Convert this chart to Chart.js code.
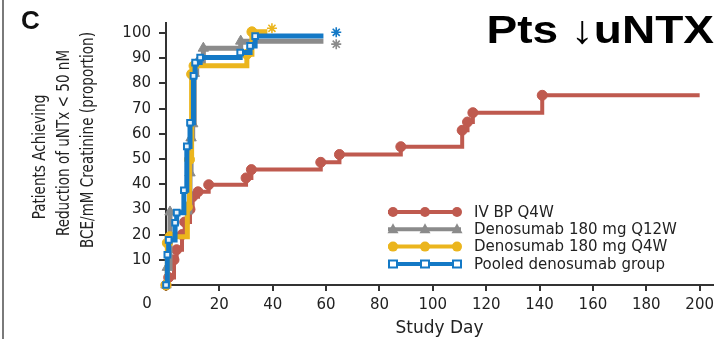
<!DOCTYPE html>
<html>
<head>
<meta charset="utf-8">
<script src="https://cdn.jsdelivr.net/npm/chart.js"></script>
<style>
  html, body { margin: 0; padding: 0; background: #fff; }
  #wrap { position: relative; width: 716px; height: 339px; }
</style>
</head>
<body>
<div id="wrap"><canvas id="untxChart"></canvas></div>
<script>
// tick labels
const dayTicks = [0, 20, 40, 60, 80, 100, 120, 140, 160, 180, 200];
const pctTicks = [10, 20, 30, 40, 50, 60, 70, 80, 90, 100];

// IV BP Q4W
const ivbpDays = [0, 1, 3, 4, 6, 7, 9, 10, 12, 16, 30, 32, 58, 65, 88, 111, 113, 115, 141, 200];
const ivbpPct  = [0, 3, 10, 14, 20, 25, 30, 35, 37, 39.8, 42.5, 45.8, 48.7, 51.8, 54.9, 61.4, 64.7, 68.4, 75.3, 75.3];

// Denosumab 180 mg Q12W
const q12Days = [0, 0.5, 1.5, 9, 9.4, 10, 10.6, 11.5, 14, 28, 59];
const q12Pct  = [0, 7, 29, 44.5, 58.4, 64, 84, 88, 94, 96.8, 96.8];

// Denosumab 180 mg Q4W
const q4Days = [0, 0.5, 1.5, 8, 8.8, 9.6, 10.5, 30.3, 32.2, 38];
const q4Pct  = [0, 16.7, 19.2, 31, 49.8, 83.7, 87, 91.6, 100.5, 100.5];

// Pooled denosumab group
const poolDays = [0, 0.5, 1, 3.4, 4, 6.7, 7.8, 9, 10.3, 10.9, 12.8, 27.8, 31.5, 33.4, 59];
const poolPct  = [0, 12, 17.9, 24.7, 28.7, 37.6, 55, 64.4, 83, 88.3, 90.3, 92.3, 94.9, 98.8, 98.8];

// end-of-follow-up asterisks: pooled, Q12W, Q4W
const censorDays = [63.8, 63.8, 39.7];
const censorPct  = [100.3, 95.6, 101.9];

const seriesNames = ['IV BP Q4W', 'Denosumab 180 mg Q12W', 'Denosumab 180 mg Q4W', 'Pooled denosumab group'];
const yTitle = ['Patients Achieving', 'Reduction of uNTx < 50 nM', 'BCE/mM Creatinine (proportion)'];
const colRed = '#bf5a4f', colGray = '#8b8b8b', colGold = '#ebb51d', colBlue = '#1479c6';

function pts(xs, ys) { return xs.map((x, i) => ({ x: x, y: ys[i] })); }
function noLastMarker(r) {
  return function(ctx) { return ctx.dataIndex === ctx.dataset.data.length - 1 ? 0 : r; };
}

function stepSet(label, xs, ys, color, style, r, width, order, fillPt) {
  return {
    label: label,
    data: pts(xs, ys),
    stepped: 'before',
    borderColor: color,
    borderWidth: width,
    pointStyle: style,
    pointRadius: noLastMarker(r),
    pointBackgroundColor: fillPt || color,
    pointBorderColor: color,
    pointBorderWidth: fillPt ? 2 : 1,
    order: order
  };
}

function starSet(i, color) {
  return {
    label: 'censor' + i,
    data: [{ x: censorDays[i], y: censorPct[i] }],
    showLine: false,
    pointStyle: 'star',
    pointRadius: 5,
    borderColor: color,
    pointBorderColor: color,
    pointBorderWidth: 1.6,
    order: 0
  };
}

const tickFont = { family: "'DejaVu Sans', sans-serif", size: 15 };

const decor = {
  id: 'decor',
  afterDraw(chart) {
    const ctx = chart.ctx;
    ctx.save();
    // panel border
    ctx.strokeStyle = '#7a7a7a';
    ctx.lineWidth = 2;
    ctx.beginPath(); ctx.moveTo(3, 0); ctx.lineTo(3, 339); ctx.stroke();

    ctx.fillStyle = '#111';
    ctx.textBaseline = 'alphabetic';
    ctx.font = "bold 26px 'Liberation Sans', Arial, sans-serif";
    ctx.textAlign = 'left';
    ctx.fillText('C', 21, 29);

    // headline, stretched a bit like the source
    ctx.save();
    ctx.translate(714, 43);
    ctx.scale(1.18, 1);
    ctx.textAlign = 'right';
    ctx.font = "bold 39px 'Liberation Sans', Arial, sans-serif";
    ctx.fillStyle = '#000';
    ctx.fillText('Pts \u2193uNTX', 0, 0);
    ctx.restore();

    // y title, narrow type
    ctx.save();
    ctx.font = "18px 'DejaVu Sans Condensed', 'DejaVu Sans', sans-serif";
    ctx.fillStyle = '#222';
    ctx.textAlign = 'center';
    ctx.textBaseline = 'middle';
    const squeeze = 216 / ctx.measureText(yTitle[2]).width;
    const centres = [[40, 157], [64, 143], [88, 140]];
    yTitle.forEach(function(line, i) {
      ctx.save();
      ctx.translate(centres[i][0], centres[i][1]);
      ctx.rotate(-Math.PI / 2);
      ctx.scale(squeeze, 1);
      ctx.fillText(line, 0, 0);
      ctx.restore();
    });
    ctx.restore();

    // shared origin label
    ctx.font = "15px 'DejaVu Sans', sans-serif";
    ctx.fillStyle = '#222';
    ctx.textAlign = 'center';
    ctx.textBaseline = 'middle';
    ctx.fillText('0', 147, 304);

    // legend
    const colors = [colRed, colGray, colGold, colBlue];
    const styles = ['circle', 'triangle', 'circle', 'rect'];
    ctx.textAlign = 'left';
    for (let i = 0; i < 4; i++) {
      const y = 212 + i * 17.3;
      ctx.strokeStyle = colors[i];
      ctx.lineWidth = 4;
      ctx.beginPath(); ctx.moveTo(388, y); ctx.lineTo(461, y); ctx.stroke();
      [393, 425, 457].forEach(function(mx) {
        ctx.fillStyle = colors[i];
        ctx.beginPath();
        if (styles[i] === 'circle') {
          ctx.arc(mx, y, 5, 0, Math.PI * 2); ctx.fill();
        } else if (styles[i] === 'triangle') {
          ctx.moveTo(mx, y - 6); ctx.lineTo(mx + 5.5, y + 4); ctx.lineTo(mx - 5.5, y + 4);
          ctx.closePath(); ctx.fill();
        } else {
          ctx.fillStyle = '#fff';
          ctx.rect(mx - 4, y - 3.5, 8, 7); ctx.fill();
          ctx.strokeStyle = colors[i]; ctx.lineWidth = 2; ctx.stroke();
        }
      });
      ctx.fillStyle = '#222';
      ctx.font = "15px 'DejaVu Sans', sans-serif";
      ctx.fillText(seriesNames[i], 474, y + 1);
    }
    ctx.restore();
  }
};

const chart = new Chart(document.getElementById('untxChart'), {
  type: 'line',
  data: {
    datasets: [
      stepSet(seriesNames[0], ivbpDays, ivbpPct, colRed, 'circle', 5, 4, 3),
      stepSet(seriesNames[1], q12Days, q12Pct, colGray, 'triangle', 6, 5, 2),
      stepSet(seriesNames[2], q4Days, q4Pct, colGold, 'circle', 5, 5, 1),
      stepSet(seriesNames[3], poolDays, poolPct, colBlue, 'rect', 4, 5, 0, '#e8f2fa'),
      starSet(0, colBlue),
      starSet(1, colGray),
      starSet(2, colGold)
    ]
  },
  options: {
    responsive: true,
    maintainAspectRatio: false,
    animation: false,
    devicePixelRatio: 1,
    layout: { autoPadding: false, padding: { top: 23, right: 3, bottom: 0, left: 0 } },
    clip: false,
    scales: {
      x: {
        type: 'linear',
        min: 0,
        max: 205,
        afterBuildTicks: function(s) { s.ticks = dayTicks.map(v => ({ value: v })); },
        afterFit: function(s) { s.height = 54; s.paddingRight = 0; s.paddingLeft = 0; },
        ticks: {
          font: tickFont,
          color: '#222',
          padding: 5,
          maxRotation: 0,
          autoSkip: false,
          callback: function(v) { return v === 0 ? '' : v; }
        },
        grid: { drawOnChartArea: false, drawTicks: true, tickLength: 6, color: '#333', lineWidth: 2 },
        border: { color: '#333', width: 2 },
        title: {
          display: true,
          text: 'Study Day',
          color: '#222',
          font: { family: "'DejaVu Sans', sans-serif", size: 17 },
          padding: { top: 4, bottom: 0 }
        }
      },
      y: {
        min: 0,
        max: 104,
        afterBuildTicks: function(s) { s.ticks = pctTicks.map(v => ({ value: v })); },
        afterFit: function(s) { s.width = 166; },
        ticks: { font: tickFont, color: '#222', padding: 8 },
        grid: { drawOnChartArea: false, drawTicks: true, tickLength: 7, color: '#333', lineWidth: 2 },
        border: { color: '#333', width: 2 }
      }
    },
    plugins: {
      legend: { display: false },
      tooltip: { enabled: false }
    }
  },
  plugins: [decor]
});
</script>
</body>
</html>
